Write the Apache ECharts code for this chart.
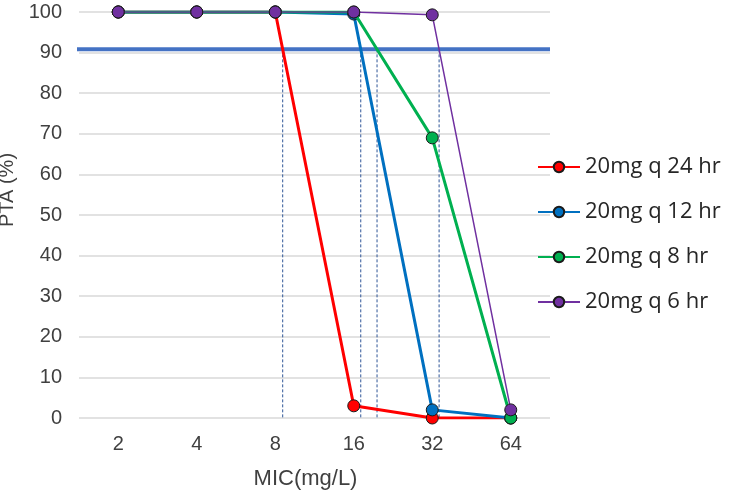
<!DOCTYPE html>
<html><head><meta charset="utf-8">
<script src="https://cdn.jsdelivr.net/npm/echarts@6/dist/echarts.min.js"></script>
<style>html,body{margin:0;padding:0;background:#fff}#c{width:734px;height:492px}</style>
</head><body><div id="c"></div>
<script>
const categories = ['2','4','8','16','32','64'];
const q24 = [100, 100, 100, 3, 0, 0];
const q12 = [100, 100, 100, 99.5, 2, 0];
const q8 = [100, 100, 100, 100, 69, 0];
const q6 = [100, 100, 100, 100, 99.3, 2];
const seriesNames = ['20mg q 24 hr','20mg q 12 hr','20mg q 8 hr','20mg q 6 hr'];
const seriesColors = ['#ff0000','#0070c0','#00b050','#7030a0'];
const seriesWidths = [3, 3, 3, 1.5];
const target = 90.8;
const yTicks = [0,10,20,30,40,50,60,70,80,90,100];

const allData = [q24, q12, q8, q6];
function crossing(d){
  for(let i=0;i<d.length-1;i++){
    if(d[i]>=target && d[i+1]<target){
      return i + (d[i]-target)/(d[i]-d[i+1]);
    }
  }
  return null;
}
const crossings = allData.map(crossing).filter(v=>v!==null);

const chart = echarts.init(document.getElementById('c'));
const series = allData.map((d,i)=>({
  name: seriesNames[i], type:'line', data:d, xAxisIndex:0, yAxisIndex:0,
  symbol:'circle', symbolSize:12, z: 3+i,
  lineStyle:{color:seriesColors[i], width:seriesWidths[i]},
  itemStyle:{color:seriesColors[i], borderColor:'#1a1a1a', borderWidth:1},
  emphasis:{disabled:true}, animation:false
}));
crossings.forEach(x=>{
  series.push({type:'line', xAxisIndex:1, yAxisIndex:0, data:[[x,target],[x,0]],
    symbol:'none', lineStyle:{color:'#2e5597', width:1, type:[3,2]}, z:1, animation:false, silent:true});
});
series.push({type:'line', xAxisIndex:1, yAxisIndex:0, clip:false,
  data:[[-0.58,target],[5.5,target]], symbol:'none',
  lineStyle:{color:'#4472c4', width:4}, z:2, animation:false, silent:true});

const baseFont = 'Liberation Sans, Arial, sans-serif';
chart.setOption({
  animation:false,
  grid:{left:79, right:184, top:12, bottom:74, containLabel:false, outerBoundsMode:'none'},
  legend:{
    data: seriesNames.map(n=>({name:n})),
    orient:'vertical', left:532, top:149, itemGap:19, itemWidth:42, itemHeight:13,
    textStyle:{fontFamily:'"Open Sans", Lato, sans-serif', fontSize:22, color:'#262626', lineHeight:26},
    selectedMode:false
  },
  xAxis:[{
    type:'category', data:categories, boundaryGap:true,
    axisLine:{show:false}, axisTick:{show:false},
    axisLabel:{fontFamily:baseFont, fontSize:20, color:'#404040', margin:16},
    name:'MIC(mg/L)', nameLocation:'middle', nameGap:50,
    nameTextStyle:{fontFamily:baseFont, fontSize:22, color:'#404040', padding:[0,18,0,0]}
  },{
    type:'value', min:-0.5, max:5.5, show:false
  }],
  yAxis:{
    type:'value', min:0, max:100, interval:10,
    axisLine:{show:false}, axisTick:{show:false},
    splitLine:{lineStyle:{color:'#d9d9d9', width:1.5}},
    axisLabel:{fontFamily:baseFont, fontSize:20, color:'#404040', margin:17},
    name:'PTA (%)', nameLocation:'middle', nameGap:57, nameRotate:90,
    nameTextStyle:{fontFamily:baseFont, fontSize:20, color:'#404040', padding:[0,0,0,50]}
  },
  series: series
});
</script></body></html>
